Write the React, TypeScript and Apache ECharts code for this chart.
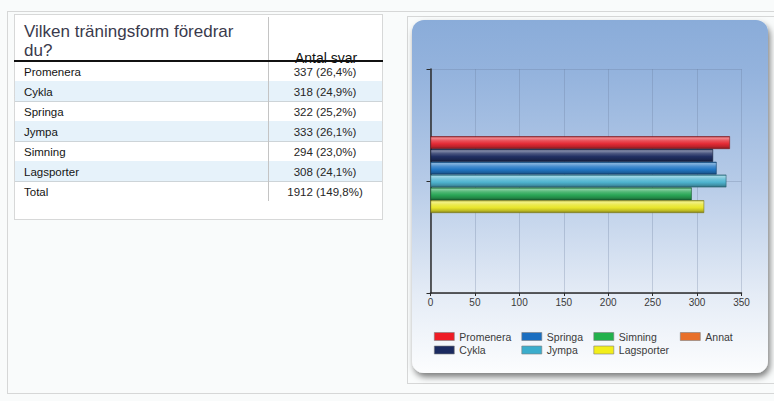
import React, { useEffect, useRef } from "react";
import * as echarts from "echarts";

// ---------- data ----------
const questionLines = ["Vilken träningsform föredrar", "du?"];
const columnHeader = "Antal svar";
const rowNames = ["Promenera", "Cykla", "Springa", "Jympa", "Simning", "Lagsporter"];
const rowCounts = [337, 318, 322, 333, 294, 308];
const rowPercents = ["26,4%", "24,9%", "25,2%", "26,1%", "23,0%", "24,1%"];
const totalName = "Total";
const totalCount = 1912;
const totalPercent = "149,8%";

const seriesNames = ["Promenera", "Cykla", "Springa", "Jympa", "Simning", "Lagsporter", "Annat"];
const seriesValues: (number | null)[] = [337, 318, 322, 333, 294, 308, null];
const seriesColors = ["#e42a35", "#213063", "#2277c4", "#4fb4cf", "#2aa757", "#e8e52a", "#e8702a"];
const legendColors = ["#ee1c25", "#1b2a60", "#1a6ec0", "#3badcc", "#22b14c", "#f2ee1a", "#e8702a"];
const xMin = 0;
const xMax = 350;
const xInterval = 50;

const FONT = "'Liberation Sans', Arial, sans-serif";

function mix(hex: string, target: string, t: number) {
  const p = (h: string) => [1, 3, 5].map((i) => parseInt(h.slice(i, i + 2), 16));
  const a = p(hex);
  const b = p(target);
  const c = a.map((v, i) => Math.round(v + (b[i] - v) * t));
  return "rgb(" + c.join(",") + ")";
}

function glossy(c: string) {
  return new echarts.graphic.LinearGradient(0, 0, 0, 1, [
    { offset: 0, color: mix(c, "#000000", 0.3) },
    { offset: 0.12, color: mix(c, "#ffffff", 0.45) },
    { offset: 0.35, color: mix(c, "#ffffff", 0.18) },
    { offset: 0.6, color: c },
    { offset: 0.85, color: mix(c, "#000000", 0.2) },
    { offset: 1, color: mix(c, "#000000", 0.45) },
  ]);
}

export default function App() {
  const ref = useRef<HTMLDivElement>(null);

  useEffect(() => {
    if (!ref.current) return;
    const chart = echarts.init(ref.current, undefined, { renderer: "svg" });

    const dotted = { stroke: "#b2b2b2", lineDash: [1, 1], lineWidth: 1 };

    // table graphics
    const tableTop = 61;
    const rowH = 20;
    const tableChildren: any[] = [];
    const allNames = [...rowNames, totalName];
    const allVals = [
      ...rowCounts.map((c, i) => `${c} (${rowPercents[i]})`),
      `${totalCount} (${totalPercent})`,
    ];
    allNames.forEach((name, i) => {
      const y0 = tableTop + i * rowH;
      if (i % 2 === 1) {
        tableChildren.push({
          type: "rect",
          shape: { x: 15, y: y0, width: 367, height: rowH },
          style: { fill: "#e6f2fa" },
        });
      }
      if (i < allNames.length - 1) {
        tableChildren.push({
          type: "line",
          shape: { x1: 15, y1: y0 + rowH + 0.5, x2: 382, y2: y0 + rowH + 0.5 },
          style: { stroke: "#cdd4d8", lineWidth: 1 },
        });
      }
      tableChildren.push({
        type: "text",
        style: {
          x: 24,
          y: y0 + rowH / 2 + 0.5,
          text: name,
          fill: "#141414",
          font: `11.5px ${FONT}`,
          verticalAlign: "middle",
          align: "left",
        },
      });
      tableChildren.push({
        type: "text",
        style: {
          x: 325,
          y: y0 + rowH / 2 + 0.5,
          text: allVals[i],
          fill: "#262626",
          font: `11.5px ${FONT}`,
          verticalAlign: "middle",
          align: "center",
        },
      });
    });
    tableChildren.push({
      type: "line",
      shape: { x1: 268.5, y1: 17, x2: 268.5, y2: 201 },
      style: { stroke: "#c4c4c4", lineWidth: 1 },
    });
    tableChildren.push({
      type: "text",
      style: {
        x: 24,
        y: 39.5,
        text: questionLines[0],
        fill: "#3a3a4c",
        font: `17px ${FONT}`,
        verticalAlign: "bottom",
      },
    });
    tableChildren.push({
      type: "text",
      style: {
        x: 24,
        y: 58.5,
        text: questionLines[1],
        fill: "#3a3a4c",
        font: `17px ${FONT}`,
        verticalAlign: "bottom",
      },
    });
    tableChildren.push({
      type: "text",
      style: {
        x: 326,
        y: 65,
        text: columnHeader,
        fill: "#111111",
        font: `14px ${FONT}`,
        verticalAlign: "bottom",
        align: "center",
      },
    });
    tableChildren.push({
      type: "line",
      shape: { x1: 14, y1: 61, x2: 383, y2: 61 },
      style: { stroke: "#111111", lineWidth: 2 },
    });

    // legend positions (column-major, 2 rows)
    const colLeft = [434, 521.5, 593.5, 680];
    const rowTop = [331, 344.5];
    const legends = seriesNames.map((name, i) => ({
      left: colLeft[Math.floor(i / 2)],
      top: rowTop[i % 2],
      padding: 0,
      itemWidth: 20,
      itemHeight: 8,
      icon: "rect",
      selectedMode: false,
      data: [
        {
          name,
          itemStyle: { color: legendColors[i], borderColor: "#7d7d7d", borderWidth: 0.6 },
        },
      ],
      textStyle: { fontSize: 10.5, color: "#3a3a3a", fontFamily: FONT },
    }));

    chart.setOption({
      animation: false,
      backgroundColor: "#f9fbfb",
      graphic: [
        {
          type: "rect",
          z: -10,
          shape: { x: 7.5, y: 11.5, width: 790, height: 382 },
          style: { fill: "none", ...dotted },
        },
        {
          type: "rect",
          z: -9,
          shape: { x: 14.5, y: 14.5, width: 368, height: 205 },
          style: { fill: "#ffffff", ...dotted },
        },
        {
          type: "rect",
          z: -9,
          shape: { x: 407.5, y: 16.5, width: 390, height: 367 },
          style: { fill: "none", ...dotted },
        },
        {
          type: "rect",
          z: -8,
          shape: { x: 412, y: 20, width: 356, height: 353, r: 12 },
          style: {
            fill: new echarts.graphic.LinearGradient(0, 0, 0, 1, [
              { offset: 0, color: "#8aacd9" },
              { offset: 0.15, color: "#94b3dd" },
              { offset: 0.45, color: "#b5cae7" },
              { offset: 0.78, color: "#e5ecf6" },
              { offset: 1, color: "#fcfdfe" },
            ]),
            shadowBlur: 6,
            shadowOffsetX: 2,
            shadowOffsetY: 4,
            shadowColor: "rgba(0,0,0,0.5)",
          },
        },
        { type: "group", z: -5, children: tableChildren },
      ],
      legend: legends,
      grid: { left: 430.5, right: 32.5, top: 69, bottom: 108, containLabel: false },
      xAxis: {
        type: "value",
        min: xMin,
        max: xMax,
        interval: xInterval,
        axisLine: { show: true, lineStyle: { color: "#2b2b2b", width: 1.5 } },
        axisTick: { show: true, length: 3, lineStyle: { color: "#2b2b2b" } },
        axisLabel: { fontSize: 10, color: "#3a3a3a", fontFamily: FONT, margin: 4 },
        splitLine: { show: true, lineStyle: { color: "rgba(100,120,150,0.28)", width: 1 } },
      },
      yAxis: [
        {
          type: "category",
          data: [""],
          position: "left",
          inverse: true,
          axisLine: { show: false },
          axisTick: { show: false },
          axisLabel: { show: false },
          splitLine: { show: false },
        },
        {
          type: "value",
          min: 0,
          max: 2,
          interval: 1,
          position: "left",
          axisLine: { show: true, lineStyle: { color: "#2b2b2b", width: 1.5 } },
          axisTick: { show: true, length: 4, lineStyle: { color: "#2b2b2b" } },
          axisLabel: { show: false },
          splitLine: { show: true, lineStyle: { color: "rgba(100,120,150,0.28)", width: 1 } },
        },
      ],
      series: seriesNames.map((name, i) => ({
        name,
        type: "bar",
        yAxisIndex: 0,
        data: [seriesValues[i]],
        barWidth: 12.8,
        barGap: "0%",
        itemStyle: {
          color: glossy(seriesColors[i]),
          borderColor: mix(seriesColors[i], "#000000", 0.45),
          borderWidth: 0.6,
        },
      })),
    });

    return () => chart.dispose();
  }, []);

  return (
    <div
      ref={ref}
      style={{ position: "absolute", left: 0, top: 0, width: 774, height: 401 }}
    />
  );
}
